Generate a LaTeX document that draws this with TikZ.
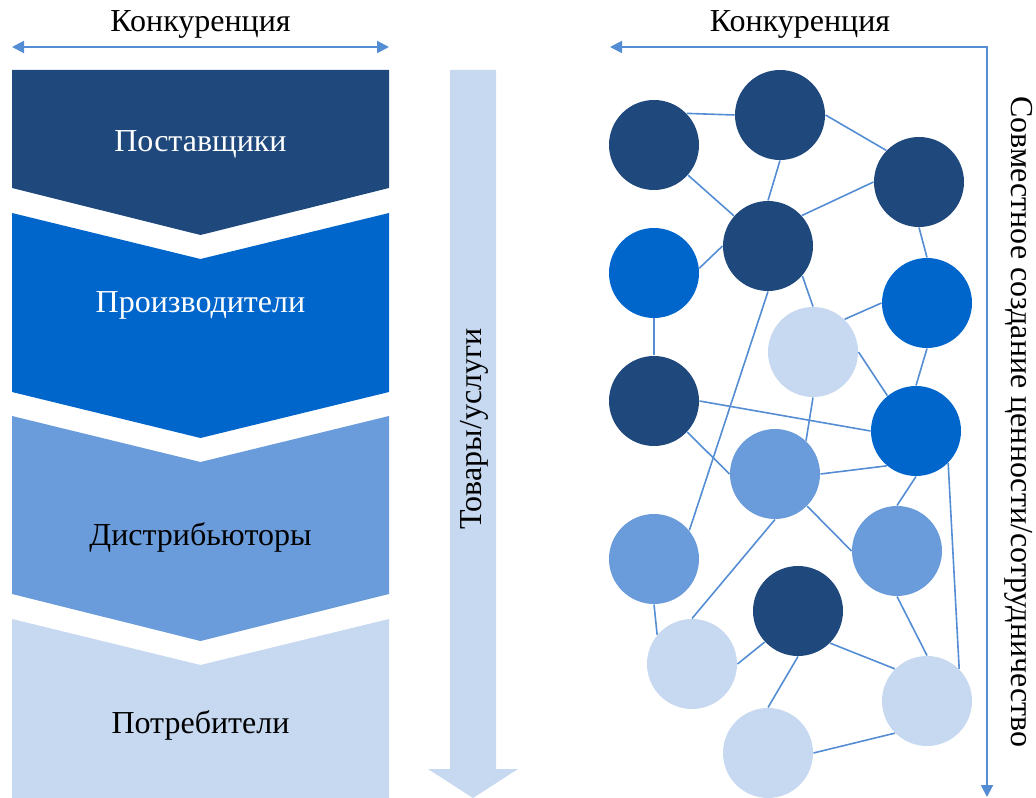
\documentclass[tikz,border=0pt]{standalone}
\usepackage{fontspec}
\setmainfont{Liberation Serif}
\usetikzlibrary{arrows.meta}

\definecolor{navyblue}{RGB}{31,72,124}
\definecolor{brightblue}{RGB}{0,102,204}
\definecolor{midblue}{RGB}{106,155,218}
\definecolor{paleblue}{RGB}{198,217,240}
\definecolor{linkblue}{RGB}{84,141,212}

\tikzset{every picture/.style={line width=0.75pt}}

\begin{document}
\begin{tikzpicture}[x=0.75pt,y=0.75pt,yscale=-1,xscale=1,
  caption/.style={inner sep=0.75pt, font=\fontsize{24}{28}\selectfont},
  actor/.style={circle, minimum size=67.5pt, inner sep=0pt},
  link/.style={draw=linkblue, line width=1.2pt},
  flow/.style={draw=linkblue, line width=1.5pt, {Triangle[length=9pt,width=9pt]}-{Triangle[length=9pt,width=9pt]}}]
\useasboundingbox (0,0) rectangle (1036,798);

%Shape: Chevron [suppliers]
\fill [navyblue] (12,70) -- (389,70) -- (389,188) -- (200.5,235) -- (12,188) -- cycle ;
%Shape: Chevron [producers]
\fill [brightblue] (12,213) -- (200.5,259) -- (389,213) -- (389,392) -- (200.5,438) -- (12,392) -- cycle ;
%Shape: Chevron [distributors]
\fill [midblue] (12,416) -- (200.5,462) -- (389,416) -- (389,594) -- (200.5,641) -- (12,594) -- cycle ;
%Shape: Chevron [consumers]
\fill [paleblue] (12,619) -- (200.5,665) -- (389,619) -- (389,798) -- (12,798) -- cycle ;

%Shape: Down Arrow [goods]
\fill [paleblue] (450,70) -- (496,70) -- (496,769) -- (518,769) -- (473,798) -- (428,769) -- (450,769) -- cycle ;

% Text Node
\node [caption, text=white] (supp) at (200.5,144) {Поставщики};
% Text Node
\node [caption, text=white] (prod) at (200.5,305) {Производители};
% Text Node
\node [caption] (dist) at (200.5,537) {Дистрибьюторы};
% Text Node
\node [caption] (cons) at (200.5,725) {Потребители};
% Text Node
\node [caption, rotate=90] (goods) at (474,429) {Товары/услуги};

%Competition arrows
\node [caption] (lcomp) at (200.5,24) {Конкуренция};
\node [caption] (rcomp) at (800,24) {Конкуренция};
\coordinate (lcl) at (12,47);
\coordinate (lcr) at (389,47);
\draw [flow] (lcl) -- (lcr) ;
\coordinate (rcl) at (610,47);
\coordinate (rcc) at (987,47);
\coordinate (rcb) at (987,797);
\draw [flow] (rcl) -- (rcc) -- (rcb) ;
\node [caption, rotate=-90] (cocreate) at (1019,422) {Совместное создание ценности/сотрудничество};

%Network of actors
\node [actor, fill=navyblue] (p1) at (654,145) {};
\node [actor, fill=navyblue] (p2) at (780,115) {};
\node [actor, fill=navyblue] (p3) at (919,182) {};
\node [actor, fill=navyblue] (p4) at (768,246) {};
\node [actor, fill=brightblue] (p5) at (654,273) {};
\node [actor, fill=brightblue] (p6) at (927,303) {};
\node [actor, fill=paleblue] (p7) at (813,352) {};
\node [actor, fill=navyblue] (p8) at (654,401) {};
\node [actor, fill=brightblue] (p9) at (916,431) {};
\node [actor, fill=midblue] (p10) at (775,474) {};
\node [actor, fill=midblue] (p11) at (654,559) {};
\node [actor, fill=midblue] (p12) at (897,551) {};
\node [actor, fill=navyblue] (p13) at (798,611) {};
\node [actor, fill=paleblue] (p14) at (692,664) {};
\node [actor, fill=paleblue] (p15) at (927,701) {};
\node [actor, fill=paleblue] (p16) at (768,753) {};

\draw [link] (p1.44) -- (p2.180) ;
\draw [link] (p2.0) -- (p3.136) ;
\draw [link] (p1) -- (p4) ;
\draw [link] (p2.-90) -- (p4.90) ;
\draw [link] (p4.42) -- (p3.180) ;
\draw [link] (p5.6) -- (p4.180) ;
\draw [link] (p3.-90) -- (p6.90) ;
\draw [link] (p4.-41) -- (p7.90) ;
\draw [link] (p7.46) -- (p6.180) ;
\draw [link] (p5.-90) -- (p8.90) ;
\draw [link] (p4.-90) -- (p11.39) ;
\draw [link] (p8.0) -- (p9.180) ;
\draw [link] (p7.-90) -- (p10.47) ;
\draw [link] (p7.0) -- (p9.129) ;
\draw [link] (p6.-90) -- (p9.90) ;
\draw [link] (p8.-43) -- (p10.180) ;
\draw [link] (p10.0) -- (p9.230) ;
\draw [link] (p10.-90) -- (p14.90) ;
\draw [link] (p10.-45) -- (p12.180) ;
\draw [link] (p9.-90) -- (p12.90) ;
\draw [link] (p9.-45) -- (p15.45) ;
\draw [link] (p11.-90) -- (p14.140) ;
\draw [link] (p12.-90) -- (p15.90) ;
\draw [link] (p14.0) -- (p13.223) ;
\draw [link] (p13.-45) -- (p15.135) ;
\draw [link] (p13.-90) -- (p16.90) ;
\draw [link] (p16.0) -- (p15.225) ;

\end{tikzpicture}
\end{document}
